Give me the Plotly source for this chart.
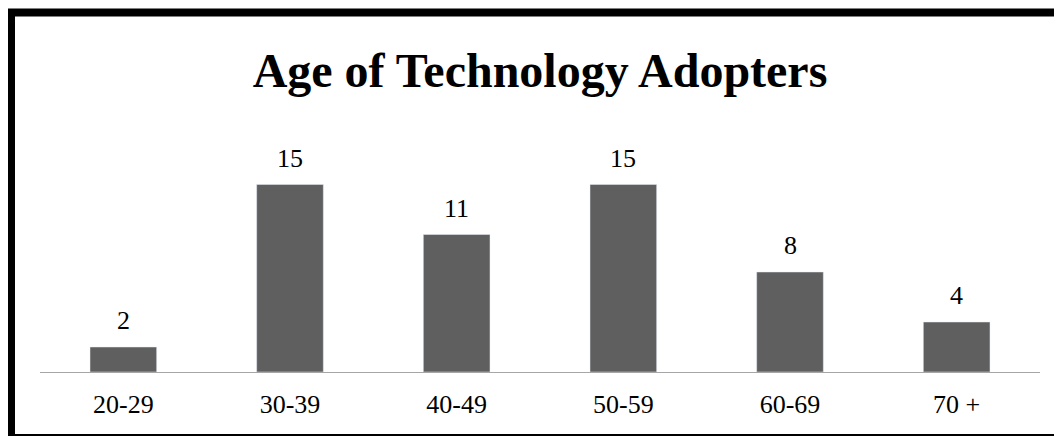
import plotly.graph_objects as go

categories = ["20-29", "30-39", "40-49", "50-59", "60-69", "70 +"]
values = [2, 15, 11, 15, 8, 4]

serif = "Liberation Serif, Times New Roman, serif"

fig = go.Figure()
fig.add_trace(go.Bar(x=categories, y=values, marker_color="#5f5f5f", width=0.4, hoverinfo="skip"))

for cat, val in zip(categories, values):
    fig.add_annotation(x=cat, y=val, text=str(val), showarrow=False, yanchor="bottom", yshift=10,
                       font=dict(family=serif, size=26, color="#000000"))

# thick black frame around the chart
fig.add_shape(type="rect", xref="paper", yref="paper", x0=-0.029, x1=1.03, y0=-0.33, y1=1.7975,
              line=dict(color="#000000", width=8), layer="above")

# the page has an 8px body margin, so the figure is sized to fit the window
fig.update_layout(
    width=1054, height=428,
    margin=dict(l=32, r=22, t=164, b=64),
    plot_bgcolor="white", paper_bgcolor="white",
    showlegend=False,
    title=dict(text="<b>Age of Technology Adopters</b>", x=532 / 1054, xanchor="center", y=1 - 62 / 428, yanchor="middle",
               font=dict(family=serif, size=48, color="#000000")),
    xaxis=dict(showline=True, linecolor="#a6a6a6", linewidth=1, showgrid=False, ticks="", ticklabelstandoff=9,
               tickfont=dict(family=serif, size=26, color="#000000"), fixedrange=True),
    yaxis=dict(range=[0, 16], visible=False, showgrid=False, zeroline=False, fixedrange=True),
)

fig.write_html("out.html")
